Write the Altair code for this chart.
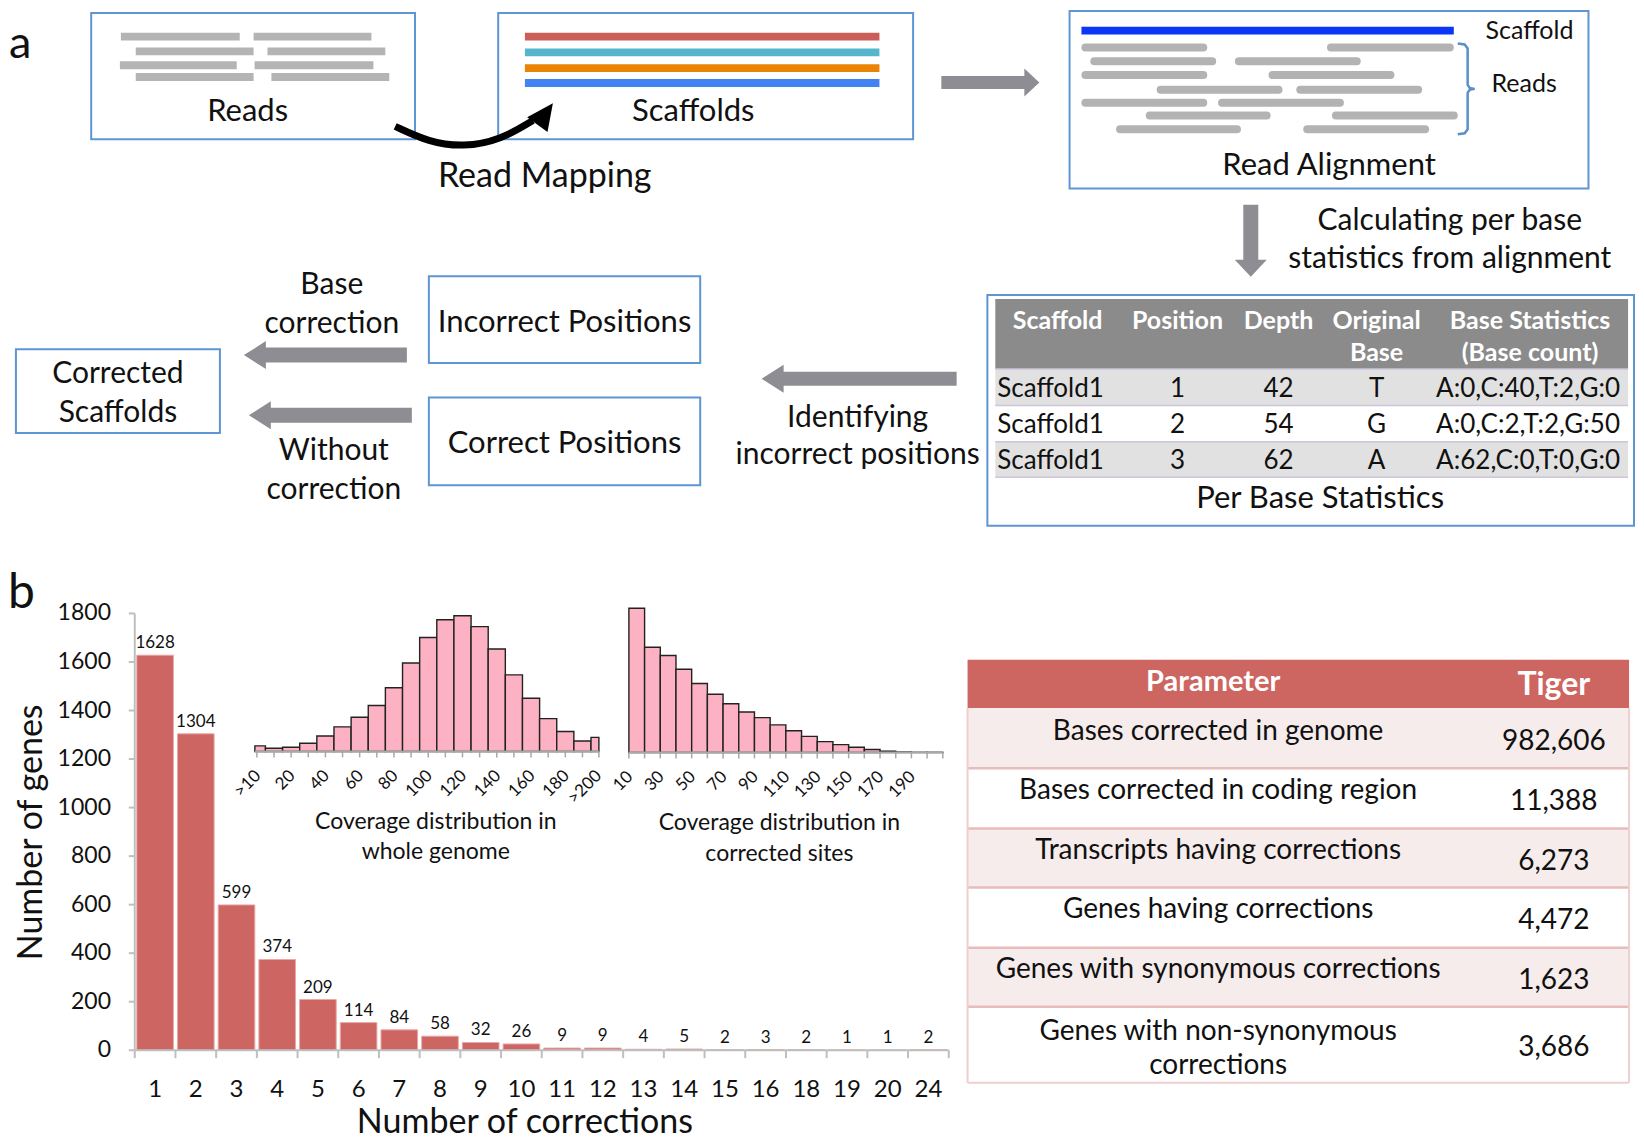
import altair as alt
import pandas as pd

# ---------------- canvas ----------------
RW, RH = 1644, 1147          # reference frame
W, H = 1628, 1131            # drawable chart area
FONT = "Lato"


def sx(v):
    return v * W / RW


def sy(v):
    return v * H / RH


PX = alt.Scale(domain=[0, RW], range=[0, W])
PY = alt.Scale(domain=[0, RH], range=[0, H])

# ---------------- data: panel b main bar chart ----------------
corrections = ["1", "2", "3", "4", "5", "6", "7", "8", "9", "10",
               "11", "12", "13", "14", "15", "16", "18", "19", "20", "24"]
genes = [1628, 1304, 599, 374, 209, 114, 84, 58, 32, 26,
         9, 9, 4, 5, 2, 3, 2, 1, 1, 2]
y_ticks = [0, 200, 400, 600, 800, 1000, 1200, 1400, 1600, 1800]

# inset 1: coverage distribution in whole genome (relative heights)
genome_cov = [17, 10, 13, 25, 47, 75, 104, 140, 194, 269, 347,
              401, 413, 380, 312, 233, 162, 100, 61, 32, 43]
genome_cov_labels = [">10", "20", "40", "60", "80", "100",
                     "120", "140", "160", "180", ">200"]

# inset 2: coverage distribution in corrected sites (relative heights)
corrected_cov = [439, 320, 295, 253, 210, 177, 148, 123, 106, 84,
                 66, 49, 33, 24, 16, 9, 4, 1.5, 0.5, 0.5]
corrected_cov_start = [10, 20, 30, 40, 50, 60, 70, 80, 90, 100,
                       110, 120, 130, 140, 150, 160, 170, 180, 190, 200]
corrected_cov_labels = ["10", "30", "50", "70", "90", "110", "130", "150", "170", "190"]

# table (panel b)
param_names = ["Bases corrected in genome", "Bases corrected in coding region",
               "Transcripts having corrections", "Genes having corrections",
               "Genes with synonymous corrections",
               "Genes with non-synonymous\ncorrections"]
tiger_values = ["982,606", "11,388", "6,273", "4,472", "1,623", "3,686"]

# per base statistics table (panel a)
stats_scaffold = ["Scaffold1", "Scaffold1", "Scaffold1"]
stats_position = ["1", "2", "3"]
stats_depth = ["42", "54", "62"]
stats_base = ["T", "G", "A"]
stats_counts = ["A:0,C:40,T:2,G:0", "A:0,C:2,T:2,G:50", "A:62,C:0,T:0,G:0"]

# ---------------- layout of the diagram (reference pixels) ----------------
BOX = "#5f95d3"
rects = []
# per-base table bands
rects += [(997, 295, 1636, 366, "#8b8b8b", "transparent", 0),
          (997, 366, 1636, 403, "#e1e1e1", "transparent", 0),
          (997, 403, 1636, 440, "#ffffff", "transparent", 0),
          (997, 440, 1636, 476, "#e1e1e1", "transparent", 0)]
# boxes
for b in [(84, 5, 411, 133), (495, 5, 914, 133), (1072, 3, 1596, 183),
          (989, 291, 1642, 525), (425, 272, 699, 360), (425, 395, 699, 484),
          (8, 346, 214, 431)]:
    rects.append(b + ("transparent", BOX, 2))
# reads in Reads box
for (x1, x2, y) in [(114, 234, 29), (248, 367, 29), (129, 248, 44), (262, 381, 44),
                    (113, 231, 58), (249, 369, 58), (129, 248, 70), (266, 385, 70)]:
    rects.append((x1, y - 4, x2, y + 4, "#b4b4b4", "transparent", 0))
# scaffolds
for (y, c) in [(29, "#ca5f5a"), (45, "#55b5cd"), (61, "#e98405"), (76, "#4282f3")]:
    rects.append((522, y - 4, 880, y + 4, c, "transparent", 0))
rects.append((1084, 19, 1460, 27, "#0b36f5", "transparent", 0))
# panel b table
rects.append((969, 661, 1637, 710, "#cd6561", "transparent", 0))
row_edges = [710, 771, 832, 892, 953, 1013, 1090]
for k in range(6):
    rects.append((969, row_edges[k], 1637, row_edges[k + 1],
                  "#f6ecec" if k % 2 == 0 else "#ffffff", "transparent", 0))

rect_df = pd.DataFrame(rects, columns=["x1", "y1", "x2", "y2", "fill", "stroke", "sw"])

rules = []
for y in [366, 403, 440, 476]:
    rules.append((997, y, 1636, y, "#cdc6da", 1.5))
for y in row_edges[1:-1]:
    rules.append((969, y, 1637, y, "#e9bcbc", 2.5))
rules += [(969, 1090, 1637, 1090, "#f0cfcf", 2),
          (969, 710, 969, 1090, "#f0cfcf", 2),
          (1637, 710, 1637, 1090, "#f0cfcf", 2)]
rule_df = pd.DataFrame(rules, columns=["x1", "y1", "x2", "y2", "color", "sw"])

# rounded reads in the alignment box
align_reads = [(1084, 1211, 40), (1332, 1460, 40), (1093, 1220, 54), (1239, 1366, 54),
               (1084, 1211, 68), (1273, 1400, 68), (1160, 1287, 83), (1301, 1428, 83),
               (1084, 1211, 96), (1222, 1349, 96), (1149, 1275, 109), (1337, 1464, 109),
               (1119, 1245, 123), (1308, 1435, 123)]
aread_df = pd.DataFrame([(a + 4, b - 4, y) for a, b, y in align_reads], columns=["x1", "x2", "y"])

bracket = [(1464, 36), (1471, 37), (1474, 41), (1474, 78), (1476, 81), (1481, 82),
           (1476, 83), (1474, 86), (1474, 123), (1471, 127), (1464, 128)]
bracket_df = pd.DataFrame([(i, x, y) for i, (x, y) in enumerate(bracket)], columns=["k", "x", "y"])

curve = [(391, 120), (425, 136), (460, 141), (497, 134), (530, 114)]
curve_df = pd.DataFrame([(i, x, y) for i, (x, y) in enumerate(curve)], columns=["k", "x", "y"])


def arrow_path(L, b, h, hl):
    hb = 1 - 2 * hl / L
    bb, hh = b / L, h / L
    return (f"M -1 {-bb:.4f} L {hb:.4f} {-bb:.4f} L {hb:.4f} {-hh:.4f} L 1 0 "
            f"L {hb:.4f} {hh:.4f} L {hb:.4f} {bb:.4f} L -1 {bb:.4f} Z")


# (cx, cy, length, body, head, headlen, angle)
block_arrows = [(992, 75.5, 98, 13, 28, 15, 0),
                (1255, 236, 72, 15, 32, 17, 90),
                (859.5, 376, 195, 14, 28, 22, 180),
                (320.5, 352, 163, 15, 28, 22, 180),
                (325.5, 413, 163, 15, 28, 22, 180)]
ARROW = "#8e8d93"

# texts: (text, x, y, size, color)
T = "#111111"
center_texts = [
    ("Reads", 242, 105, 31, T), ("Scaffolds", 692, 105, 31, T),
    ("Read Mapping", 542, 171, 34, T), ("Read Alignment", 1334, 160, 31, T),
    ("Calculating per base", 1456, 216, 30, T), ("statistics from alignment", 1456, 255, 30, T),
    ("Incorrect Positions", 562, 319, 31, T), ("Correct Positions", 562, 442, 31, T),
    ("Base", 327, 281, 30, T), ("correction", 327, 320, 30, T),
    ("Without", 329, 449, 30, T), ("correction", 329, 489, 30, T),
    ("Corrected", 111, 371, 30, T), ("Scaffolds", 111, 411, 30, T),
    ("Identifying", 858, 416, 30, T), ("incorrect positions", 858, 453, 30, T),
    ("Per Base Statistics", 1325, 498, 31, T),
    ("Coverage distribution in", 432, 826, 23, T), ("whole genome", 432, 856, 23, T),
    ("Coverage distribution in", 779, 827, 23, T), ("corrected sites", 779, 858, 23, T),
]
row_y = [386, 423, 459]
for k in range(3):
    center_texts += [(stats_position[k], 1181, row_y[k], 26, T),
                     (stats_depth[k], 1283, row_y[k], 26, T),
                     (stats_base[k], 1382, row_y[k], 26, T),
                     (stats_counts[k], 1535, row_y[k], 26, T)]
param_y = [734, 794, 855, 915, 976, 1038]
value_y = [744, 805, 866, 926, 987, 1055]
for k in range(6):
    lines = param_names[k].split("\n")
    for j, ln in enumerate(lines):
        center_texts.append((ln, 1222, param_y[k] + 35 * j, 28, T))
    center_texts.append((tiger_values[k], 1561, value_y[k], 28, T))

left_texts = [("Scaffold", 1492, 23, 25, T), ("Reads", 1498, 77, 25, T),
              ("a", 1, 37, 45, T), ("b", 0, 594, 48, T)]
for k in range(3):
    left_texts.append((stats_scaffold[k], 999, row_y[k], 26, T))

header_texts = [("Scaffold", 1060, 317, 25, "white"), ("Position", 1181, 317, 25, "white"),
                ("Depth", 1283, 317, 25, "white"), ("Original", 1382, 317, 25, "white"),
                ("Base", 1382, 350, 25, "white"), ("Base Statistics", 1537, 317, 25, "white"),
                ("(Base count)", 1537, 350, 25, "white"),
                ("Parameter", 1217, 684, 29, "white"), ("Tiger", 1561, 687, 32, "white")]

cols = ["text", "x", "y", "size", "color"]


# ---------------- builders ----------------
def X(field, scale):
    return alt.X(field, type="quantitative", scale=scale, axis=None)


def Y(field, scale):
    return alt.Y(field, type="quantitative", scale=scale, axis=None)


layers = []

layers.append(alt.Chart(rect_df).mark_rect().encode(
    x=X("x1", PX), x2="x2:Q", y=Y("y1", PY), y2="y2:Q",
    fill=alt.Fill("fill:N", scale=None), stroke=alt.Stroke("stroke:N", scale=None),
    strokeWidth=alt.StrokeWidth("sw:Q", scale=None)))

layers.append(alt.Chart(rule_df).mark_rule().encode(
    x=X("x1", PX), x2="x2:Q", y=Y("y1", PY), y2="y2:Q",
    color=alt.Color("color:N", scale=None), strokeWidth=alt.StrokeWidth("sw:Q", scale=None)))

layers.append(alt.Chart(aread_df).mark_rule(strokeCap="round", strokeWidth=8, color="#b3b3b3").encode(
    x=X("x1", PX), x2="x2:Q", y=Y("y", PY)))

layers.append(alt.Chart(bracket_df).mark_line(color="#5b8fc9", strokeWidth=2.5).encode(
    x=X("x", PX), y=Y("y", PY), order="k:Q"))

layers.append(alt.Chart(curve_df).mark_line(color="black", strokeWidth=7, interpolate="basis").encode(
    x=X("x", PX), y=Y("y", PY), order="k:Q"))

# arrow head of the curved arrow
head_df = pd.DataFrame({"x": [542.4], "y": [107.4]})
layers.append(alt.Chart(head_df).mark_point(
    shape="M 0 -1 L 0.95 1 L -0.95 1 Z", size=700, angle=36, filled=True,
    fill="black", strokeWidth=0, opacity=1).encode(x=X("x", PX), y=Y("y", PY)))

for (cx, cy, L, b, h, hl, ang) in block_arrows:
    adf = pd.DataFrame({"x": [cx], "y": [cy]})
    layers.append(alt.Chart(adf).mark_point(
        shape=arrow_path(L, b, h, hl), size=L * L, angle=ang, filled=True,
        fill=ARROW, strokeWidth=0, opacity=1).encode(x=X("x", PX), y=Y("y", PY)))


def text_layer(rows, align, weight="normal"):
    df = pd.DataFrame(rows, columns=cols)
    return alt.Chart(df).mark_text(font=FONT, align=align, baseline="middle", fontWeight=weight).encode(
        x=X("x", PX), y=Y("y", PY), text="text:N",
        size=alt.Size("size:Q", scale=None), color=alt.Color("color:N", scale=None))


layers.append(text_layer(center_texts, "center"))
layers.append(text_layer(left_texts, "left"))
layers.append(text_layer(header_texts, "center", "bold"))

# ---------------- main bar chart ----------------
MX = alt.Scale(domain=[0, 20], range=[sx(128), sx(950)])
MY = alt.Scale(domain=[0, 1800], range=[sy(1057), sy(614)])
main_df = pd.DataFrame({"cat": corrections, "genes": genes, "i": list(range(len(genes)))})
base = alt.Chart(main_df).transform_calculate(
    lo="datum.i + 0.05", hi="datum.i + 0.95", mid="datum.i + 0.5")
layers.append(base.mark_rect(color="#cd6562", stroke="#e9a9a7", strokeWidth=1).encode(
    x=X("lo", MX), x2="hi:Q", y=Y("genes", MY), y2=alt.datum(0)))
layers.append(base.mark_text(font=FONT, fontSize=17, baseline="middle", dy=-12, color="#111").encode(
    x=X("mid", MX), y=Y("genes", MY), text="genes:Q"))
layers.append(base.mark_text(font=FONT, fontSize=24, baseline="middle", color="#111").encode(
    x=X("mid", MX), y=alt.value(sy(1097)), text="cat:N"))

bound_df = pd.DataFrame({"b": list(range(21))})
layers.append(alt.Chart(bound_df).mark_rule(color="#bfbfbf", strokeWidth=2).encode(
    x=X("b", MX), y=alt.value(sy(1057)), y2=alt.value(sy(1065))))
xaxis_df = pd.DataFrame({"a": [0], "b": [20], "v": [0]})
layers.append(alt.Chart(xaxis_df).mark_rule(color="#bfbfbf", strokeWidth=2).encode(
    x=X("a", MX), x2="b:Q", y=Y("v", MY)))
yaxis_df = pd.DataFrame({"a": [0], "b": [1800], "v": [0]})
layers.append(alt.Chart(yaxis_df).mark_rule(color="#bfbfbf", strokeWidth=2).encode(
    y=Y("a", MY), y2="b:Q", x=X("v", MX)))
ytick_df = pd.DataFrame({"t": y_ticks})
layers.append(alt.Chart(ytick_df).mark_rule(color="#bfbfbf", strokeWidth=2).encode(
    y=Y("t", MY), x=alt.value(sx(122)), x2=alt.value(sx(128))))
layers.append(alt.Chart(ytick_df).mark_text(font=FONT, fontSize=23, align="right", baseline="middle",
                                            color="#111").encode(
    y=Y("t", MY), x=alt.value(sx(104)), text="t:Q"))

title_df = pd.DataFrame({"t": ["Number of genes"]})
layers.append(alt.Chart(title_df).mark_text(font=FONT, fontSize=34, angle=270, align="center",
                                            baseline="middle", color="#111").encode(
    x=alt.value(sx(24.5)), y=alt.value(sy(836)), text="t:N"))
title2_df = pd.DataFrame({"t": ["Number of corrections"]})
layers.append(alt.Chart(title2_df).mark_text(font=FONT, fontSize=34, align="center",
                                             baseline="middle", color="#111").encode(
    x=alt.value(sx(522)), y=alt.value(sy(1131)), text="t:N"))

# ---------------- inset 1 ----------------
PINK = "#fcb2c2"
I1X = alt.Scale(domain=[-0.117, 19.96], range=[sx(249.3), sx(596.7)], clamp=True)
I1Y = alt.Scale(domain=[0, 413], range=[sy(754), sy(754 - 413 / 3)])
g_df = pd.DataFrame({"v": genome_cov, "i": list(range(len(genome_cov)))})
gb = alt.Chart(g_df).transform_calculate(lo="datum.i - 0.5", hi="datum.i + 0.5")
layers.append(gb.mark_rect(fill=PINK, stroke="#222", strokeWidth=1.4).encode(
    x=X("lo", I1X), x2="hi:Q", y=Y("v", I1Y), y2=alt.datum(0)))
layers.append(alt.Chart(g_df).mark_rule(color="#a8a8a8", strokeWidth=1.5).encode(
    x=X("i", I1X), y=alt.value(sy(754)), y2=alt.value(sy(760))))
i1ax = pd.DataFrame({"a": [-1], "b": [21]})
layers.append(alt.Chart(i1ax).mark_rule(color="#a8a8a8", strokeWidth=2).encode(
    x=X("a", I1X), x2="b:Q", y=alt.value(sy(754))))
gl_df = pd.DataFrame({"lab": genome_cov_labels, "i": [2 * k for k in range(len(genome_cov_labels))]})
layers.append(alt.Chart(gl_df).transform_calculate(lx="datum.i + 0.08").mark_text(
    font=FONT, fontSize=17, angle=315, align="right", baseline="middle", color="#111").encode(
    x=X("lx", I1X), y=alt.value(sy(776)), text="lab:N"))

# ---------------- inset 2 ----------------
I2X = alt.Scale(domain=[10, 210], range=[sx(627), sx(944)])
I2Y = alt.Scale(domain=[0, 439], range=[sy(755), sy(755 - 439 / 3)])
c_df = pd.DataFrame({"v": corrected_cov, "s": corrected_cov_start})
cb = alt.Chart(c_df).transform_calculate(e="datum.s + 10")
layers.append(cb.mark_rect(fill=PINK, stroke="#222", strokeWidth=1.4).encode(
    x=X("s", I2X), x2="e:Q", y=Y("v", I2Y), y2=alt.datum(0)))
edge_df = pd.DataFrame({"e": corrected_cov_start + [210]})
layers.append(alt.Chart(edge_df).mark_rule(color="#a8a8a8", strokeWidth=1.5).encode(
    x=X("e", I2X), y=alt.value(sy(755)), y2=alt.value(sy(761))))
i2ax = pd.DataFrame({"a": [10], "b": [210]})
layers.append(alt.Chart(i2ax).mark_rule(color="#a8a8a8", strokeWidth=2).encode(
    x=X("a", I2X), x2="b:Q", y=alt.value(sy(755))))
cl_df = pd.DataFrame({"lab": corrected_cov_labels,
                      "e": [10 + 20 * k for k in range(len(corrected_cov_labels))]})
layers.append(alt.Chart(cl_df).transform_calculate(lx="datum.e + 0.8").mark_text(
    font=FONT, fontSize=17, angle=315, align="right", baseline="middle", color="#111").encode(
    x=X("lx", I2X), y=alt.value(sy(777)), text="lab:N"))

chart = alt.layer(*layers).resolve_scale(x="independent", y="independent").properties(
    width=W, height=H, padding=0, autosize=alt.AutoSizeParams(type="none"),
    background="white").configure_view(strokeWidth=0)

chart.save("out.html", embed_options={"renderer": "svg", "actions": False})
